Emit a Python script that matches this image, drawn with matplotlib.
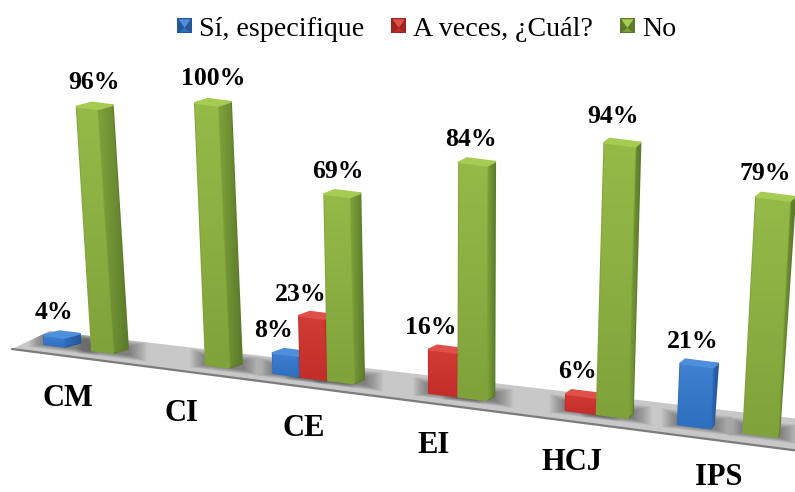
import numpy as np
import matplotlib
matplotlib.use("Agg")
import matplotlib.pyplot as plt
from matplotlib.colors import LinearSegmentedColormap
from matplotlib.patches import Polygon, Patch, Rectangle
from matplotlib.legend_handler import HandlerBase

plt.rcParams['font.family'] = ['Liberation Serif', 'DejaVu Serif']

categories = ["CM", "CI", "CE", "EI", "HCJ", "IPS"]
series_names = ["Sí, especifique", "A veces, ¿Cuál?", "No"]
si = [4, 0, 8, 0, 0, 21]
a_veces = [0, 0, 23, 16, 6, 0]
no = [96, 100, 69, 84, 94, 79]
series_values = [si, a_veces, no]

# (top, front upper, front lower, dark side) per series
palette = [("#4f8fdc", "#3f80d0", "#2f6fc0", "#24569a"),
           ("#e0504a", "#d23c36", "#c42e2a", "#9c2522"),
           ("#a6cc52", "#96ba48", "#7fa33a", "#5c7a2a")]
label_dx = [[-8, 0, -17, 0, 0, -7],
            [0, 0, -16, -16, -7, 0],
            [-1, 0, -4, -6, -9, -10]]
label_dy = [[4, 0, 5, 0, 0, 5],
            [0, 0, 6, 5, 5, 0],
            [3, 3, 5, 4, 1, 4]]

fig = plt.figure(figsize=(7.95, 4.92), dpi=100)
ax = fig.add_axes([0, 0, 1, 1])
ax.set_axis_off()


def x_left(t):
    return 92 + 109.9 * t + 4.07 * t * t


def y_base(x):
    return 353 + 0.1265 * (x - 113)


def gradient(verts, c1, c2, vertical=True, z=3):
    verts = np.asarray(verts)
    poly = Polygon(verts, closed=True, fc=c2, ec=c2, lw=1.4, joinstyle='round', zorder=z)
    ax.add_patch(poly)
    cmap = LinearSegmentedColormap.from_list("g", [c1, c2])
    arr = np.linspace(0, 1, 64).reshape(-1, 1) if vertical else np.linspace(0, 1, 64).reshape(1, -1)
    x0, x1 = verts[:, 0].min(), verts[:, 0].max()
    y0, y1 = verts[:, 1].min(), verts[:, 1].max()
    im = ax.imshow(arr, cmap=cmap, extent=(x0, x1, y1, y0), aspect='auto',
                   interpolation='bilinear', zorder=z, origin='upper')
    im.set_clip_path(poly)


# floor
floor_pts = [(12, 349), (50, 331), (800, 419), (800, 451)]
floor = Polygon(floor_pts, closed=True, fc="#c8c8c8", ec="none", zorder=1)
ax.add_patch(floor)
ax.plot([12, 800], [349, 451], color="#7c7c7c", lw=1.6, zorder=2, solid_capstyle='round')

bars = []
for s, vals in enumerate(series_values):
    for c, v in enumerate(vals):
        if v > 0:
            bars.append((c + (s - 2) * 0.22, c, s, v))
bars.sort()

# soft shadows on the floor
for t, c, s, v in bars:
    xl = x_left(t)
    for grow in np.arange(16, 0, -1.0):
        a = 0.035
        pts = [(xl - grow, y_base(xl - grow) + grow * .3),
               (xl + 36 + grow * 1.2, y_base(xl + 36 + grow) + grow * .3),
               (xl + 36 + grow * 1.2, y_base(xl + 36 + grow) - 8 - grow * .4),
               (xl - grow, y_base(xl - grow) - 8 - grow * .4)]
        p = Polygon(pts, closed=True, fc="#303030", ec="none", alpha=a, zorder=1.5)
        ax.add_patch(p)
        p.set_clip_path(floor)

# bars
z = 3.0
for t, c, s, v in bars:
    top_c, upper, lower, dark = palette[s]
    xl = x_left(t)
    fw = 21 + 13 * (xl - 92) / 651
    sw = 36 - fw
    xr = xl + fw
    bl = (xl, y_base(xl))
    br = (xr, y_base(xr))
    h = v * (2.55 + 0.00068 * (xr - 113)) - 1
    lean = (xl - 440) * 0.00018 * h
    tl = (xl + lean, bl[1] - h)
    tr = (xr + lean, br[1] - h)
    dx, dy = sw, -4.0
    dxt = max(sw, 5)
    side = [br, (br[0] + dx, br[1] + dy), (tr[0] + dxt, tr[1] - 4), tr]
    top = [tl, tr, (tr[0] + dxt, tr[1] - 4), (tl[0] + dxt, tl[1] - 4)]
    gradient(side, lower, dark, vertical=False, z=z)
    gradient([bl, br, tr, tl], upper, lower, vertical=True, z=z + 0.01)
    gradient(top, top_c, top_c, z=z + 0.02)
    z += 0.1
    cx = (tl[0] + tr[0] + dxt) / 2
    ax.text(cx + label_dx[s][c], tl[1] - 27 + label_dy[s][c], f"{v}%",
            ha='center', va='center', fontsize=18.5, fontweight='bold', color='black', zorder=10)

# category labels
for c, name in enumerate(categories):
    x = x_left(c) - 24.5
    ax.text(x, min(y_base(x) + 51.5, 477.5), name, ha='center', va='center',
            fontsize=22, fontweight='bold', color='black', zorder=10)


class Bevel(HandlerBase):
    def create_artists(self, legend, handle, xd, yd, w, h, fs, trans):
        side = min(w, h) * 1.0
        x0, y0 = -xd, -yd + (h - side) / 2
        top_c, upper, lower, dark = handle.colors
        arts = [Rectangle((x0, y0), side, side, fc=dark, ec="none", transform=trans),
                Polygon([(x0 + 1.2, y0 + side - 1), (x0 + side - 1.2, y0 + side - 1),
                         (x0 + side / 2, y0 + side * .35)], closed=True, fc=top_c, ec="none", transform=trans),
                Polygon([(x0 + side * .18, y0 + 1), (x0 + side * .82, y0 + 1),
                         (x0 + side / 2, y0 + side * .35)], closed=True, fc=lower, ec="none", transform=trans)]
        return arts


handles = []
for name, col in zip(series_names, palette):
    p = Patch(facecolor=col[2], label=name)
    p.colors = col
    handles.append(p)
ax.legend(handles=handles, loc='center', bbox_to_anchor=(426.5 / 795, 1 - 29 / 492),
          ncol=3, frameon=False, fontsize=20.2, handlelength=0.55, handleheight=0.55,
          handletextpad=0.24, columnspacing=0.95, borderpad=0, borderaxespad=0,
          handler_map={Patch: Bevel()})

ax.set_xlim(0, 795)
ax.set_ylim(492, 0)
fig.savefig("out.png", dpi=100)
